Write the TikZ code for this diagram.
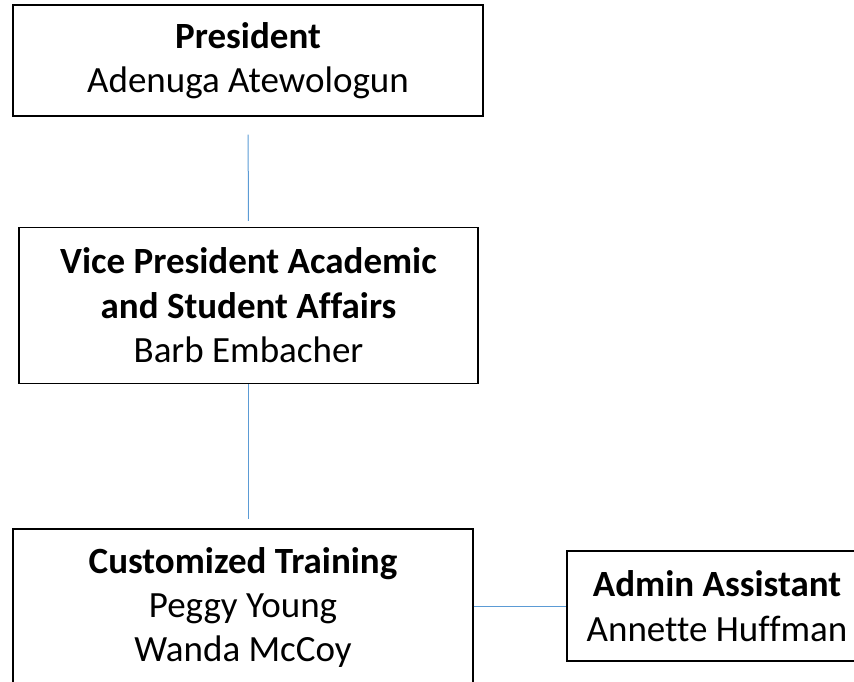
\documentclass[tikz,border=0pt]{standalone}
\usepackage{fontspec}
\setmainfont{Carlito}[Ligatures=NoCommon]
\begin{document}
\begin{tikzpicture}[x=1pt,y=-1pt,
  orgbox/.style={draw=black, line width=1.3pt, fill=white, inner sep=0pt, align=center,
    font=\fontsize{37}{44.5}\selectfont},
  link/.style={draw={rgb,255:red,91;green,155;blue,213}, line width=1pt}]
\useasboundingbox (0,0) rectangle (854,681);
\begin{scope}
\clip (0,0) rectangle (854,681);
\node[orgbox, minimum width=470pt, minimum height=111pt] (pres) at (248,60.5)
  {\textbf{President}\\Adenuga Atewologun};
\node[orgbox, minimum width=459pt, minimum height=156pt] (vp) at (248.5,305.5)
  {\textbf{Vice President Academic}\\\textbf{and Student Affairs}\\Barb Embacher};
\node[orgbox, minimum width=460pt, minimum height=156pt, font=\fontsize{37}{44}\selectfont] (ct) at (243,607)
  {\textbf{Customized Training}\\Peggy Young\\Wanda McCoy};
\node[orgbox, minimum width=300pt, minimum height=110pt] (adm) at (717,606)
  {\textbf{Admin Assistant}\\Annette Huffman};
\draw[link, shorten <=18pt, shorten >=6pt] (pres.south) -- (vp.north);
\draw[link, shorten >=9pt] (vp.south) -- (vp.south |- ct.north);
\draw[link] (ct.east |- adm.west) -- (adm.west);
\end{scope}
\end{tikzpicture}
\end{document}
